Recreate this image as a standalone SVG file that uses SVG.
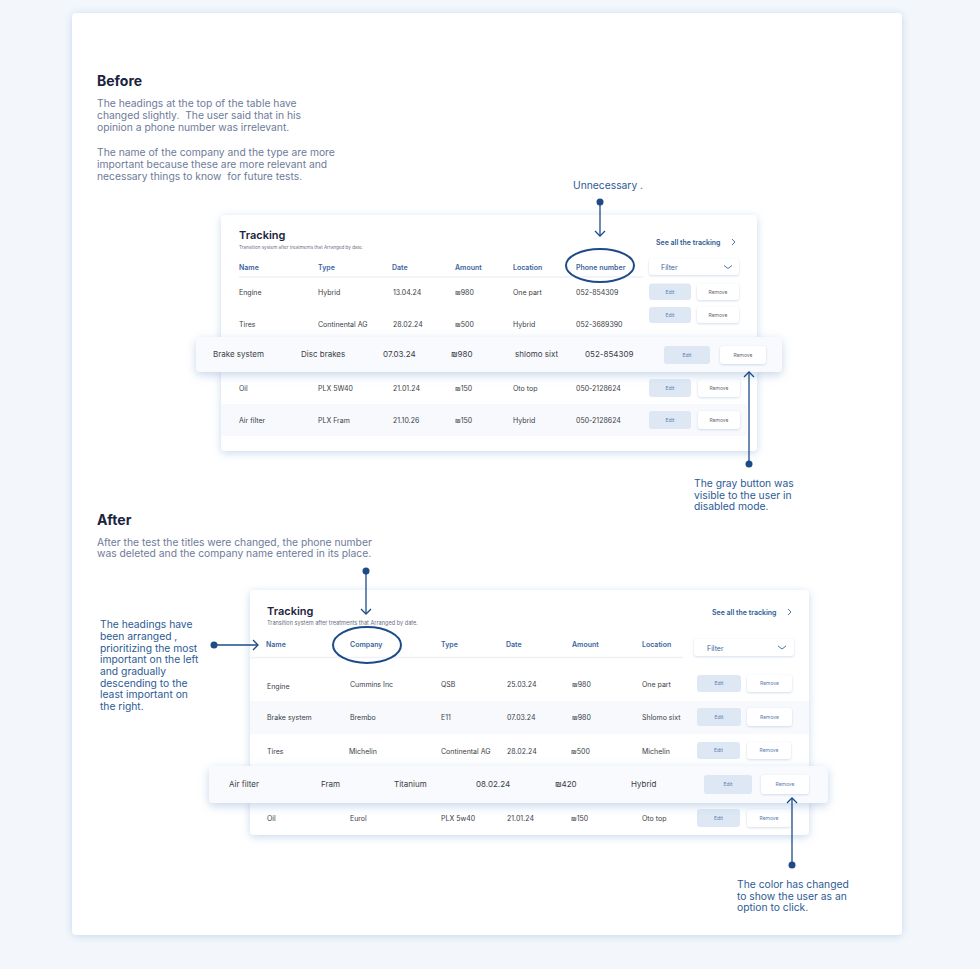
<svg xmlns="http://www.w3.org/2000/svg" width="980" height="969" viewBox="0 0 980 969">
<defs>
<filter id="shOuter" x="-10%" y="-10%" width="120%" height="120%">
<feDropShadow dx="0" dy="1" stdDeviation="4" flood-color="#9fbbdc" flood-opacity="0.55"/>
</filter>
<filter id="shCard" x="-10%" y="-10%" width="120%" height="130%">
<feDropShadow dx="0" dy="2" stdDeviation="4" flood-color="#a5c0e0" flood-opacity="0.6"/>
</filter>
<filter id="shRow" x="-5%" y="-40%" width="110%" height="190%">
<feDropShadow dx="0" dy="3" stdDeviation="5" flood-color="#9ab6d8" flood-opacity="0.55"/>
</filter>
<filter id="shBtn" x="-20%" y="-30%" width="140%" height="170%">
<feDropShadow dx="0" dy="0.8" stdDeviation="1" flood-color="#b7c9de" flood-opacity="0.7"/>
</filter>
<style>
text{font-family:"Inter","Liberation Sans","DejaVu Sans",sans-serif;white-space:pre}
.h1{font-size:14px;font-weight:700;fill:#1b2340}
.para{font-size:10.3px;fill:#6e7b99}
.note{font-size:10.3px;fill:#2d5b94}
.ttl{font-size:11px;font-weight:600;fill:#1b2340}
.sub{font-size:4.6px;fill:#6b6f80}
.sub2{font-size:5.6px;fill:#6b6f80}
.hd{font-size:7px;font-weight:600;fill:#3b64a0}
.cell{font-size:7px;fill:#3a3d45}
.fcell{font-size:8px;fill:#3a3d45}
.link{font-size:7px;font-weight:600;fill:#2d5b94}
.filt{font-size:7px;fill:#3b64a0}
.edit{fill:#dde8f4}
.rem{fill:#ffffff}
.bt{font-size:5px;text-anchor:middle;fill:#5b7db0}
.btg{font-size:5px;text-anchor:middle;fill:#6a6a70}
.chev{fill:none;stroke:#3b64a0;stroke-width:0.9}
.band{fill:#f7f9fc}
.ul{stroke:#eef1f6;stroke-width:1.5}
.conn line{stroke:#1d4b88;stroke-width:1.3}
.conn path{fill:none;stroke:#1d4b88;stroke-width:1.3}
.conn circle{fill:#1d4b88}
.conn ellipse{fill:none;stroke:#1d4b88;stroke-width:2}
</style>
</defs>
<rect width="980" height="969" fill="#f3f7fb"/>
<rect x="72" y="13" width="830" height="922" rx="4" fill="#ffffff" filter="url(#shOuter)"/>

<g id="before-text">
<text class="h1" x="97" y="86">Before</text>
<text class="para" x="97" y="107">The headings at the top of the table have</text>
<text class="para" x="97" y="119" xml:space="preserve">changed slightly.  The user said that in his</text>
<text class="para" x="97" y="131">opinion a phone number was irrelevant.</text>
<text class="para" x="97" y="156">The name of the company and the type are more</text>
<text class="para" x="97" y="168">important because these are more relevant and</text>
<text class="para" x="97" y="180" xml:space="preserve">necessary things to know  for future tests.</text>
</g>

<g id="note-unnecessary"><text class="note" x="573" y="189">Unnecessary .</text></g>

<g id="before-table">
<rect x="221" y="215" width="536" height="236" rx="4" fill="#ffffff" filter="url(#shCard)"/>
<text class="ttl" x="239" y="239">Tracking</text>
<text class="sub" x="239" y="248.5">Transition system after treatments that Arranged by date.</text>
<text class="link" x="656" y="244.5">See all the tracking</text>
<path class="chev" d="M732,239 l3,3 l-3,3"/>
<text class="hd" x="239" y="269.5">Name</text>
<text class="hd" x="318" y="269.5">Type</text>
<text class="hd" x="392" y="269.5">Date</text>
<text class="hd" x="455" y="269.5">Amount</text>
<text class="hd" x="513" y="269.5">Location</text>
<text class="hd" x="576" y="269.5">Phone number</text>
<rect x="649" y="259" width="90" height="16" rx="3" fill="#ffffff" filter="url(#shBtn)"/>
<text class="filt" x="661" y="269.5">Filter</text>
<path class="chev" d="M724,265.5 l4,3 l4,-3"/>
<line class="ul" x1="239" y1="277" x2="643" y2="277"/>

<g id="b-row-engine">
<text class="cell" x="239" y="294.5">Engine</text>
<text class="cell" x="318" y="294.5">Hybrid</text>
<text class="cell" x="393" y="294.5">13.04.24</text>
<text class="cell" x="455" y="294.5">₪980</text>
<text class="cell" x="513" y="294.5">One part</text>
<text class="cell" x="576" y="294.5">052-854309</text>
<rect class="edit" x="649" y="283.5" width="42" height="16.5" rx="3"/>
<text class="bt" x="670" y="293.5">Edit</text>
<rect class="rem" x="697" y="283.5" width="42" height="16.5" rx="3" filter="url(#shBtn)"/>
<text class="btg" x="718" y="293.5">Remove</text>
</g>
<g id="b-row-tires">
<rect class="edit" x="649" y="307" width="42" height="16" rx="3"/>
<text class="bt" x="670" y="316.5">Edit</text>
<rect class="rem" x="697" y="307" width="42" height="16" rx="3" filter="url(#shBtn)"/>
<text class="btg" x="718" y="316.5">Remove</text>
<text class="cell" x="239" y="326.5">Tires</text>
<text class="cell" x="318" y="326.5">Continental AG</text>
<text class="cell" x="393" y="326.5">28.02.24</text>
<text class="cell" x="455" y="326.5">₪500</text>
<text class="cell" x="513" y="326.5">Hybrid</text>
<text class="cell" x="576" y="326.5">052-3689390</text>
</g>
<g id="b-row-oil">
<text class="cell" x="239" y="390.5">Oil</text>
<text class="cell" x="318" y="390.5">PLX 5W40</text>
<text class="cell" x="393" y="390.5">21.01.24</text>
<text class="cell" x="455" y="390.5">₪150</text>
<text class="cell" x="513" y="390.5">Oto top</text>
<text class="cell" x="576" y="390.5">050-2128624</text>
<rect class="edit" x="649" y="379" width="42" height="18" rx="3"/>
<text class="bt" x="670" y="389.5">Edit</text>
<rect class="rem" x="698" y="379" width="42" height="18" rx="3" filter="url(#shBtn)"/>
<text class="btg" x="719" y="389.5">Remove</text>
</g>
<g id="b-row-air">
<rect class="band" x="221" y="404" width="526" height="32"/>
<text class="cell" x="239" y="422.5">Air filter</text>
<text class="cell" x="318" y="422.5">PLX Fram</text>
<text class="cell" x="393" y="422.5">21.10.26</text>
<text class="cell" x="455" y="422.5">₪150</text>
<text class="cell" x="513" y="422.5">Hybrid</text>
<text class="cell" x="576" y="422.5">050-2128624</text>
<rect class="edit" x="649" y="411" width="42" height="18" rx="3"/>
<text class="bt" x="670" y="421.5">Edit</text>
<rect class="rem" x="698" y="411" width="42" height="18" rx="3" filter="url(#shBtn)"/>
<text class="btg" x="719" y="421.5">Remove</text>
</g>
</g>

<g id="before-float-row">
<rect x="196" y="337" width="586" height="35" rx="4" fill="#f8fafd" filter="url(#shRow)"/>
<text class="fcell" x="213" y="357">Brake system</text>
<text class="fcell" x="301" y="357">Disc brakes</text>
<text class="fcell" x="383" y="357">07.03.24</text>
<text class="fcell" x="451" y="357">₪980</text>
<text class="fcell" x="515" y="357">shlomo sixt</text>
<text class="fcell" x="585" y="357">052-854309</text>
<rect class="edit" x="664" y="346" width="46" height="18" rx="3"/>
<text class="bt" x="687" y="356.5">Edit</text>
<rect class="rem" x="720" y="346" width="46" height="18" rx="3" filter="url(#shBtn)"/>
<text class="btg" x="743" y="356.5">Remove</text>
</g>

<g id="note-gray">
<text class="note" x="694" y="487">The gray button was</text>
<text class="note" x="694" y="499">visible to the user in</text>
<text class="note" x="694" y="510">disabled mode.</text>
</g>

<g id="after-text">
<text class="h1" x="97" y="525">After</text>
<text class="para" x="97" y="546">After the test the titles were changed, the phone number</text>
<text class="para" x="97" y="557">was deleted and the company name entered in its place.</text>
</g>

<g id="note-headings">
<text class="note" x="100" y="628">The headings have</text>
<text class="note" x="100" y="640">been arranged ,</text>
<text class="note" x="100" y="651.5">prioritizing the most</text>
<text class="note" x="100" y="663">important on the left</text>
<text class="note" x="100" y="675">and gradually</text>
<text class="note" x="100" y="686.5">descending to the</text>
<text class="note" x="100" y="698">least important on</text>
<text class="note" x="100" y="710">the right.</text>
</g>

<g id="after-table">
<rect x="250" y="590" width="559" height="245" rx="4" fill="#ffffff" filter="url(#shCard)"/>
<text class="ttl" x="267" y="615">Tracking</text>
<text class="sub2" x="267" y="625">Transition system after treatments that Arranged by date.</text>
<text class="link" x="712" y="614.5">See all the tracking</text>
<path class="chev" d="M788,609 l3,3 l-3,3"/>
<text class="hd" x="266" y="646.5">Name</text>
<text class="hd" x="350" y="646.5">Company</text>
<text class="hd" x="441" y="646.5">Type</text>
<text class="hd" x="506" y="646.5">Date</text>
<text class="hd" x="572" y="646.5">Amount</text>
<text class="hd" x="642" y="646.5">Location</text>
<rect x="694" y="639" width="100" height="17" rx="3" fill="#ffffff" filter="url(#shBtn)"/>
<text class="filt" x="707" y="650.5">Filter</text>
<path class="chev" d="M778,646 l4,3 l4,-3"/>
<line class="ul" x1="250" y1="657.5" x2="683" y2="657.5"/>

<g id="a-row-engine">
<text class="cell" x="267" y="688.5">Engine</text>
<text class="cell" x="350" y="686.5">Cummins Inc</text>
<text class="cell" x="441" y="686.5">QSB</text>
<text class="cell" x="507" y="686.5">25.03.24</text>
<text class="cell" x="572" y="686.5">₪980</text>
<text class="cell" x="642" y="686.5">One part</text>
<rect class="edit" x="697" y="675" width="44" height="17" rx="3"/>
<text class="bt" x="719" y="685.3">Edit</text>
<rect class="rem" x="747" y="675" width="45" height="17" rx="3" filter="url(#shBtn)"/>
<text class="bt" x="769.5" y="685.3">Remove</text>
</g>
<g id="a-row-brake">
<rect class="band" x="250" y="701" width="559" height="33"/>
<text class="cell" x="267" y="719.5">Brake system</text>
<text class="cell" x="350" y="719.5">Brembo</text>
<text class="cell" x="441" y="719.5">E11</text>
<text class="cell" x="507" y="719.5">07.03.24</text>
<text class="cell" x="572" y="719.5">₪980</text>
<text class="cell" x="642" y="719.5">Shlomo sixt</text>
<rect class="edit" x="697" y="708" width="44" height="18" rx="3"/>
<text class="bt" x="719" y="718.8">Edit</text>
<rect class="rem" x="747" y="708" width="45" height="18" rx="3" filter="url(#shBtn)"/>
<text class="bt" x="769.5" y="718.8">Remove</text>
</g>
<g id="a-row-tires">
<text class="cell" x="267" y="753.5">Tires</text>
<text class="cell" x="349" y="753.5">Michelin</text>
<text class="cell" x="441" y="753.5">Continental AG</text>
<text class="cell" x="507" y="753.5">28.02.24</text>
<text class="cell" x="571" y="753.5">₪500</text>
<text class="cell" x="642" y="753.5">Michelin</text>
<rect class="edit" x="697" y="742" width="43" height="17" rx="3"/>
<text class="bt" x="718.5" y="752.3">Edit</text>
<rect class="rem" x="747" y="742" width="44" height="17" rx="3" filter="url(#shBtn)"/>
<text class="bt" x="769" y="752.3">Remove</text>
</g>
<g id="a-row-oil">
<text class="cell" x="267" y="820.5">Oil</text>
<text class="cell" x="350" y="820.5">Eurol</text>
<text class="cell" x="441" y="820.5">PLX 5w40</text>
<text class="cell" x="507" y="820.5">21.01.24</text>
<text class="cell" x="571" y="820.5">₪150</text>
<text class="cell" x="642" y="820.5">Oto top</text>
<rect class="edit" x="697" y="809" width="43" height="18" rx="3"/>
<text class="bt" x="718.5" y="819.8">Edit</text>
<rect class="rem" x="747" y="809" width="44" height="18" rx="3" filter="url(#shBtn)"/>
<text class="bt" x="769" y="819.8">Remove</text>
</g>
</g>

<g id="after-float-row">
<rect x="209" y="766" width="619" height="37" rx="4" fill="#f8fafd" filter="url(#shRow)"/>
<text class="fcell" x="229" y="787">Air filter</text>
<text class="fcell" x="321" y="787">Fram</text>
<text class="fcell" x="394" y="787">Titanium</text>
<text class="fcell" x="476" y="787">08.02.24</text>
<text class="fcell" x="555" y="787">₪420</text>
<text class="fcell" x="631" y="787">Hybrid</text>
<rect class="edit" x="704" y="775" width="48" height="19" rx="3"/>
<text class="bt" x="728" y="786.3">Edit</text>
<rect class="rem" x="761" y="775" width="48" height="19" rx="3" filter="url(#shBtn)"/>
<text class="bt" x="785" y="786.3">Remove</text>
</g>

<g id="note-color">
<text class="note" x="737" y="888">The color has changed</text>
<text class="note" x="737" y="900">to show the user as an</text>
<text class="note" x="737" y="911">option to click.</text>
</g>

<g id="connectors" class="conn">
<ellipse cx="600" cy="265.5" rx="34" ry="16.5"/>
<circle cx="600" cy="202" r="3.5"/>
<line x1="600" y1="202" x2="600" y2="236"/>
<path d="M595,231 L600,236 L605,231"/>
<circle cx="749" cy="464" r="3.5"/>
<line x1="749" y1="464" x2="749" y2="372"/>
<path d="M744,377 L749,372 L754,377"/>
<circle cx="366" cy="571" r="3.5"/>
<line x1="366" y1="571" x2="366" y2="614"/>
<path d="M361,609 L366,614 L371,609"/>
<ellipse cx="367" cy="645" rx="34" ry="18"/>
<circle cx="214" cy="645" r="3.5"/>
<line x1="214" y1="645" x2="258" y2="645"/>
<path d="M253,640 L258,645 L253,650"/>
<circle cx="792" cy="865" r="3.5"/>
<line x1="792" y1="865" x2="792" y2="798"/>
<path d="M787,803 L792,798 L797,803"/>
</g>
</svg>
